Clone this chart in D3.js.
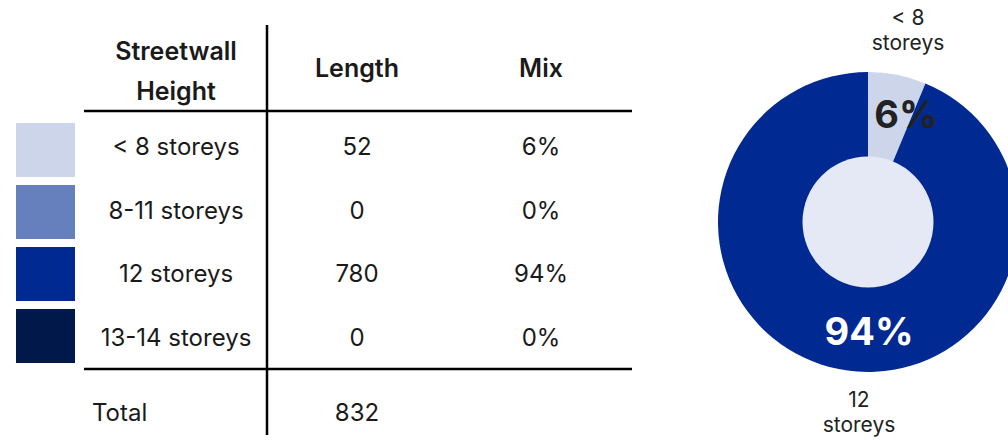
<!DOCTYPE html>
<html>
<head>
<meta charset="utf-8">
<script src="https://cdn.jsdelivr.net/npm/d3@7"></script>
<style>
  body { margin: 0; background: #fff; }
  svg { display: block; font-family: Inter, Roboto, "Liberation Sans", sans-serif; }
</style>
</head>
<body>
<svg width="1008" height="440"></svg>
<script>
// table data
var categories = ["< 8 storeys", "8-11 storeys", "12 storeys", "13-14 storeys"];
var lengths = [52, 0, 780, 0];
var mixLabels = ["6%", "0%", "94%", "0%"];
var colors = ["#cdd5ea", "#6680bd", "#002a91", "#00194a"];
var headers = ["Length", "Mix"];
var totalLabel = "Total";
var totalValue = 832;

// donut labels (only the non-zero slices get one)
var donutOuterLabels = [["< 8", "storeys"], null, ["12", "storeys"], null];

var svg = d3.select("svg");
var textColor = "#1a1a1a";
var bodySize = 24;

// rows
var y = d3.scaleBand()
    .domain(d3.range(categories.length))
    .range([118, 364])
    .paddingInner(0.13);

// swatch rows sit a bit tighter than the text rows
var ySwatch = d3.scaleBand()
    .domain(d3.range(categories.length))
    .range([123, 363])
    .paddingInner(8 / 62);

var cols = { cat: 176, len: 357, mix: 541 };

// SWATCHES
svg.selectAll(".swatch")
    .data(categories)
    .enter().append("rect")
    .attr("class", "swatch")
    .attr("x", 16)
    .attr("y", function (d, i) { return ySwatch(i); })
    .attr("width", 59)
    .attr("height", ySwatch.bandwidth())
    .attr("fill", function (d, i) { return colors[i]; });

// HEADER
svg.append("text").attr("x", cols.cat).attr("y", 60)
    .attr("text-anchor", "middle").attr("font-size", 25).attr("font-weight", "600")
    .attr("fill", textColor).text("Streetwall");
svg.append("text").attr("x", cols.cat).attr("y", 100)
    .attr("text-anchor", "middle").attr("font-size", 25).attr("font-weight", "600")
    .attr("fill", textColor).text("Height");
svg.selectAll(".hdr")
    .data(headers)
    .enter().append("text")
    .attr("class", "hdr")
    .attr("x", function (d, i) { return i == 0 ? cols.len : cols.mix; })
    .attr("y", 77)
    .attr("text-anchor", "middle")
    .attr("font-size", 25)
    .attr("font-weight", "600")
    .attr("fill", textColor)
    .text(function (d) { return d; });

// ROWS
var rows = svg.selectAll(".row")
    .data(categories)
    .enter().append("g")
    .attr("class", "row")
    .attr("transform", function (d, i) { return "translate(0," + (y(i) + y.bandwidth() / 2 + 9.5) + ")"; });

rows.append("text").attr("x", cols.cat).attr("text-anchor", "middle")
    .attr("font-size", bodySize).attr("fill", textColor)
    .text(function (d) { return d; });
rows.append("text").attr("x", cols.len).attr("text-anchor", "middle")
    .attr("font-size", bodySize).attr("fill", textColor)
    .text(function (d, i) { return lengths[i]; });
rows.append("text").attr("x", cols.mix).attr("text-anchor", "middle")
    .attr("font-size", bodySize).attr("fill", textColor)
    .text(function (d, i) { return mixLabels[i]; });

// TOTAL
svg.append("text").attr("x", 92).attr("y", 421)
    .attr("font-size", bodySize).attr("fill", textColor).text(totalLabel);
svg.append("text").attr("x", cols.len).attr("y", 421)
    .attr("text-anchor", "middle").attr("font-size", bodySize).attr("fill", textColor).text(totalValue);

// RULES
svg.append("line").attr("x1", 267).attr("x2", 267).attr("y1", 25).attr("y2", 435)
    .attr("stroke", "#000").attr("stroke-width", 2.5);
svg.append("line").attr("x1", 84).attr("x2", 632).attr("y1", 111).attr("y2", 111)
    .attr("stroke", "#000").attr("stroke-width", 2.5);
svg.append("line").attr("x1", 84).attr("x2", 632).attr("y1", 369).attr("y2", 369)
    .attr("stroke", "#000").attr("stroke-width", 2.5);

// DONUT
var cx = 868, cy = 222, outerR = 150, innerR = 65.5;
var pie = d3.pie().sort(null).value(function (d) { return d; });
var arcs = pie(lengths);
var arc = d3.arc().innerRadius(0).outerRadius(outerR);

var donut = svg.append("g").attr("transform", "translate(" + cx + "," + cy + ")");
donut.selectAll(".slice")
    .data(arcs)
    .enter().append("path")
    .attr("class", "slice")
    .attr("d", arc)
    .attr("fill", function (d, i) { return colors[i]; });

donut.append("circle").attr("r", innerR).attr("fill", "#e4e9f5");

// percent labels inside the ring
var pctPos = [[38, -94], null, [1, 123], null];
donut.selectAll(".pct")
    .data(arcs.filter(function (d) { return d.value > 0; }))
    .enter().append("text")
    .attr("class", "pct")
    .attr("x", function (d) { return pctPos[d.index][0]; })
    .attr("y", function (d) { return pctPos[d.index][1]; })
    .attr("text-anchor", "middle")
    .attr("font-size", 38)
    .attr("font-weight", "bold")
    .attr("fill", function (d) { return d.index == 0 ? "#222" : "#fff"; })
    .text(function (d) { return mixLabels[d.index]; });

// outside labels
var outPos = [[40, -197], null, [-9, 185], null];
donutOuterLabels.forEach(function (lines, i) {
    if (!lines) return;
    var t = donut.append("text")
        .attr("text-anchor", "middle")
        .attr("font-size", 21)
        .attr("fill", "#222");
    lines.forEach(function (s, j) {
        t.append("tspan").attr("x", outPos[i][0]).attr("y", outPos[i][1] + j * 25).text(s);
    });
});
</script>
</body>
</html>
